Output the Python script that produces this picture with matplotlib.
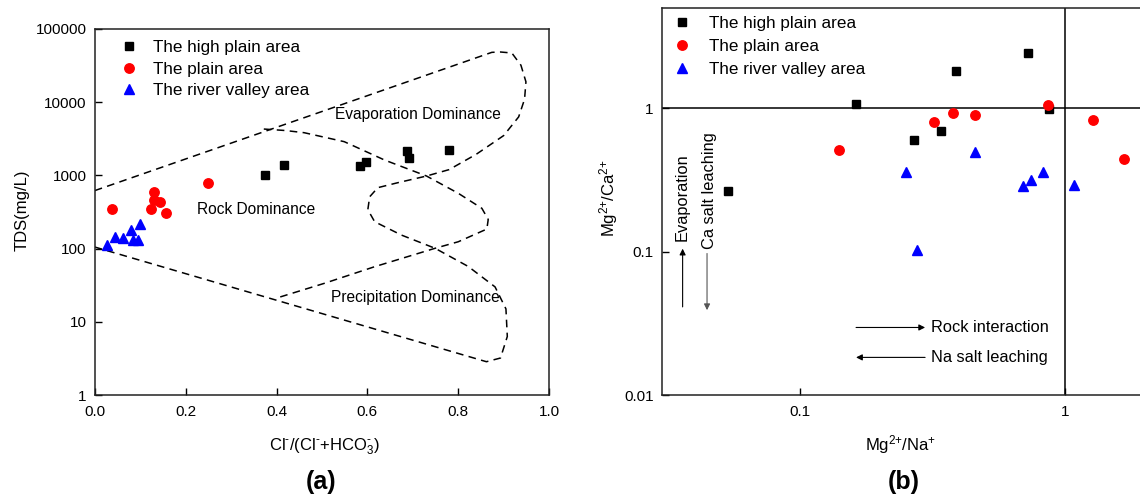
import numpy as np
import matplotlib
matplotlib.use("Agg")
import matplotlib.pyplot as plt
from matplotlib.ticker import FixedLocator, FixedFormatter, NullLocator

plt.rcParams['font.family'] = ['Liberation Sans', 'DejaVu Sans']
plt.rcParams['mathtext.fontset'] = 'custom'
plt.rcParams['mathtext.rm'] = 'Liberation Sans'
plt.rcParams['mathtext.it'] = 'Liberation Sans'
plt.rcParams['mathtext.bf'] = 'Liberation Sans:bold'

# ---- (a) Gibbs diagram data ----
gibbs_high_x = [0.375, 0.416, 0.584, 0.597, 0.687, 0.692, 0.780]
gibbs_high_y = [1010, 1390, 1360, 1520, 2130, 1710, 2220]
gibbs_plain_x = [0.037, 0.130, 0.131, 0.143, 0.123, 0.156, 0.249]
gibbs_plain_y = [344, 600, 461, 437, 344, 303, 796]
gibbs_valley_x = [0.026, 0.045, 0.061, 0.080, 0.100, 0.084, 0.094]
gibbs_valley_y = [111, 146, 140, 180, 217, 131, 131]

# outer boundary (S shaped envelope)
outer_x = [0.0, 0.874, 0.893, 0.918, 0.938, 0.949, 0.946, 0.933, 0.900, 0.840,
           0.780, 0.730, 0.667, 0.623, 0.605, 0.601, 0.616, 0.675, 0.749, 0.822,
           0.881, 0.905, 0.908, 0.893, 0.862, 0.0]
outer_y = [620, 48000, 48500, 47000, 32000, 19000, 11000, 6300, 3500, 1950,
           1200, 980, 795, 680, 510, 340, 233, 153, 101, 57,
           30, 15, 6.3, 3.2, 2.85, 105]
# inner boundary (rock dominance)
inner_x = [0.372, 0.420, 0.461, 0.549, 0.638, 0.730, 0.800, 0.852, 0.866, 0.863,
           0.800, 0.749, 0.616, 0.505, 0.398]
inner_y = [4300, 4100, 3830, 2890, 1620, 982, 570, 355, 250, 185,
           124, 101, 56.6, 33.5, 20.9]

# ---- (b) Mg/Na vs Mg/Ca data ----
ion_high_x = [0.0535, 0.163, 0.268, 0.339, 0.387, 0.873, 0.723]
ion_high_y = [0.264, 1.08, 0.601, 0.691, 1.83, 0.989, 2.42]
ion_plain_x = [0.140, 0.319, 0.378, 0.459, 0.865, 1.274, 1.675]
ion_plain_y = [0.51, 0.799, 0.932, 0.902, 1.055, 0.833, 0.443]
ion_valley_x = [0.252, 0.277, 0.457, 0.696, 0.745, 0.824, 1.083]
ion_valley_y = [0.360, 0.102, 0.499, 0.289, 0.315, 0.358, 0.292]

labels = ['The high plain area', 'The plain area', 'The river valley area']

fig = plt.figure(figsize=(11.4, 4.98), dpi=100)
ax1 = fig.add_axes([94.8 / 1140, 1 - 395 / 498, 454.3 / 1140, 366 / 498])
ax2 = fig.add_axes([662 / 1140, 1 - 395 / 498, 482.4 / 1140, 386.7 / 498])

dash = dict(color='black', lw=1.1, linestyle=(0, (5, 3.5)))
ax1.plot(outer_x, outer_y, **dash)
ax1.plot(inner_x, inner_y, **dash)

ax1.plot(gibbs_high_x, gibbs_high_y, 's', color='black', ms=6.3, label=labels[0])
ax1.plot(gibbs_plain_x, gibbs_plain_y, 'o', color='red', mec='red', ms=6.8, label=labels[1])
ax1.plot(gibbs_valley_x, gibbs_valley_y, '^', color='blue', mec='blue', ms=7.3, label=labels[2])

ax1.set_yscale('log')
ax1.set_xlim(0, 1)
ax1.set_ylim(1, 100000)
ax1.xaxis.set_major_locator(FixedLocator([0, 0.2, 0.4, 0.6, 0.8, 1.0]))
ax1.xaxis.set_major_formatter(FixedFormatter(['0.0', '0.2', '0.4', '0.6', '0.8', '1.0']))
yt = [1, 10, 100, 1000, 10000, 100000]
ax1.yaxis.set_major_locator(FixedLocator(yt))
ax1.yaxis.set_major_formatter(FixedFormatter([str(v) for v in yt]))
ax1.yaxis.set_minor_locator(NullLocator())

ax1.text(0.712, 6840, 'Evaporation Dominance', ha='center', va='center', fontsize=11.2)
ax1.text(0.356, 344, 'Rock Dominance', ha='center', va='center', fontsize=11.2)
ax1.text(0.705, 21.6, 'Precipitation Dominance', ha='center', va='center', fontsize=11.2)

ax1.set_xlabel(r'Cl$^{\mathrm{\text{-}}}$/(Cl$^{\text{-}}$+HCO$_3^{\text{-}}$)', fontsize=12, va='center')
ax1.xaxis.set_label_coords(0.5045, -0.141)
ax1.set_ylabel('TDS(mg/L)', fontsize=12, va='center')
ax1.yaxis.set_label_coords(-0.159, 0.5055)

ax1.legend(loc='upper left', bbox_to_anchor=(0.0566, 0.969), frameon=False, fontsize=12.3,
           handlelength=1.0, handletextpad=0.9, borderpad=0, borderaxespad=0,
           labelspacing=0.38, numpoints=1)

# ---- panel b ----
ax2.axhline(1, color='black', lw=1.1)
ax2.axvline(1, color='black', lw=1.1)
ax2.plot(ion_high_x, ion_high_y, 's', color='black', ms=6.3, label=labels[0])
ax2.plot(ion_plain_x, ion_plain_y, 'o', color='red', mec='red', ms=6.8, label=labels[1])
ax2.plot(ion_valley_x, ion_valley_y, '^', color='blue', mec='blue', ms=7.8, label=labels[2])

ax2.set_xscale('log')
ax2.set_yscale('log')
ax2.set_xlim(0.03, 2)
ax2.set_ylim(0.01, 5)
ax2.xaxis.set_major_locator(FixedLocator([0.1, 1]))
ax2.xaxis.set_major_formatter(FixedFormatter(['0.1', '1']))
ax2.xaxis.set_minor_locator(NullLocator())
ax2.yaxis.set_major_locator(FixedLocator([0.01, 0.1, 1]))
ax2.yaxis.set_major_formatter(FixedFormatter(['0.01', '0.1', '1']))
ax2.yaxis.set_minor_locator(NullLocator())

arr = dict(arrowstyle='-|>', color='black', lw=0.8, mutation_scale=9, shrinkA=0, shrinkB=0)
arr_g = dict(arrowstyle='-|>', color='#555555', lw=0.8, mutation_scale=9, shrinkA=0, shrinkB=0)
ax2.annotate('', xy=(0.0359, 0.105), xytext=(0.0359, 0.0412), arrowprops=arr)
ax2.annotate('', xy=(0.0444, 0.0391), xytext=(0.0444, 0.0972), arrowprops=arr_g)
ax2.annotate('', xy=(0.2964, 0.0296), xytext=(0.1625, 0.0296), arrowprops=arr)
ax2.annotate('', xy=(0.1625, 0.0183), xytext=(0.2964, 0.0183), arrowprops=arr)
ax2.text(0.0356, 0.241, 'Evaporation', rotation=90, ha='center', va='center', fontsize=11.8)
ax2.text(0.0453, 0.2687, 'Ca salt leaching', rotation=90, ha='center', va='center', fontsize=11.8)
ax2.text(0.311, 0.0296, 'Rock interaction', ha='left', va='center', fontsize=11.8)
ax2.text(0.312, 0.0183, 'Na salt leaching', ha='left', va='center', fontsize=11.8)

ax2.set_xlabel(r'Mg$^{2{+}}$/Na$^{+}$', fontsize=12, va='center')
ax2.xaxis.set_label_coords(0.4954, -0.1293)
ax2.set_ylabel(r'Mg$^{2{+}}$/Ca$^{2{+}}$', fontsize=12, va='center')
ax2.yaxis.set_label_coords(-0.110, 0.509)

ax2.legend(loc='upper left', bbox_to_anchor=(0.0238, 0.979), frameon=False, fontsize=12.3,
           handlelength=1.0, handletextpad=1.05, borderpad=0, borderaxespad=0,
           labelspacing=0.45, numpoints=1)

for ax in (ax1, ax2):
    ax.tick_params(which='both', direction='in', top=False, right=False,
                   length=5, width=1, labelsize=11)
    ax.tick_params(axis='x', pad=7)
    ax.tick_params(axis='y', pad=6)
    for s in ax.spines.values():
        s.set_linewidth(1.1)
        s.set_color('#222222')

fig.text(320.7 / 1140, 1 - 482 / 498, '(a)', ha='center', va='center', fontsize=18, fontweight='bold')
fig.text(903.5 / 1140, 1 - 482 / 498, '(b)', ha='center', va='center', fontsize=18, fontweight='bold')

fig.savefig('out.png', dpi=100)
